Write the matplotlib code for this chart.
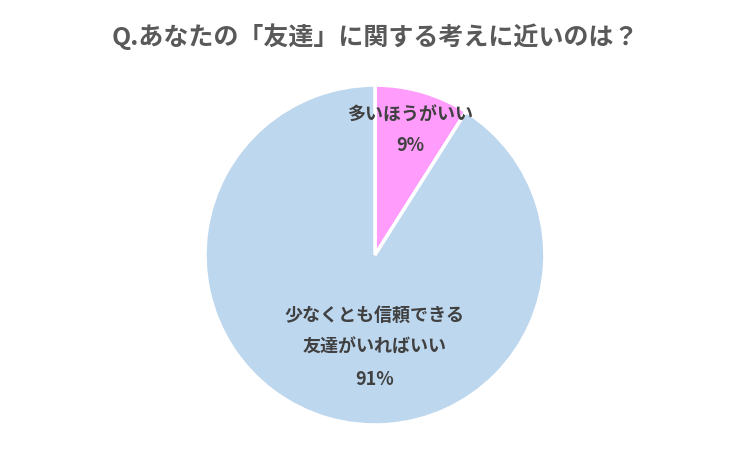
import matplotlib.pyplot as plt

plt.rcParams['font.family'] = ['Noto Sans CJK JP', 'DejaVu Sans']

# Data
labels = ['多いほうがいい', '少なくとも信頼できる\n友達がいればいい']
values = [9, 91]
colors = ['#FF9CFC', '#BDD7EE']


def main():
    fig = plt.figure(figsize=(7.5, 4.49), dpi=100)
    ax = fig.add_axes([0.2733, 0.0535, 0.4533, 0.757])
    ax.pie(values, colors=colors, startangle=90, counterclock=False,
           wedgeprops=dict(edgecolor='white', linewidth=2.5))
    ax.set_aspect('equal')
    ax.set_xlim(-1, 1)
    ax.set_ylim(-1, 1)

    txt = dict(ha='center', va='center', fontsize=13, fontweight='bold', color='#404040')
    ax.text(0.206, 0.82, labels[0], **txt)
    ax.text(0.206, 0.647, f'{values[0]}%', **txt)
    ax.text(0.0, -0.447, labels[1], linespacing=1.85, **txt)
    ax.text(0.0, -0.735, f'{values[1]}%', **txt)

    fig.text(0.5, 1 - 37 / 449, 'Q.あなたの「友達」に関する考えに近いのは？',
             ha='center', va='center', fontsize=18, fontweight='bold', color='#595959')
    fig.savefig('out.png', dpi=100)


if __name__ == "__main__":
    main()
